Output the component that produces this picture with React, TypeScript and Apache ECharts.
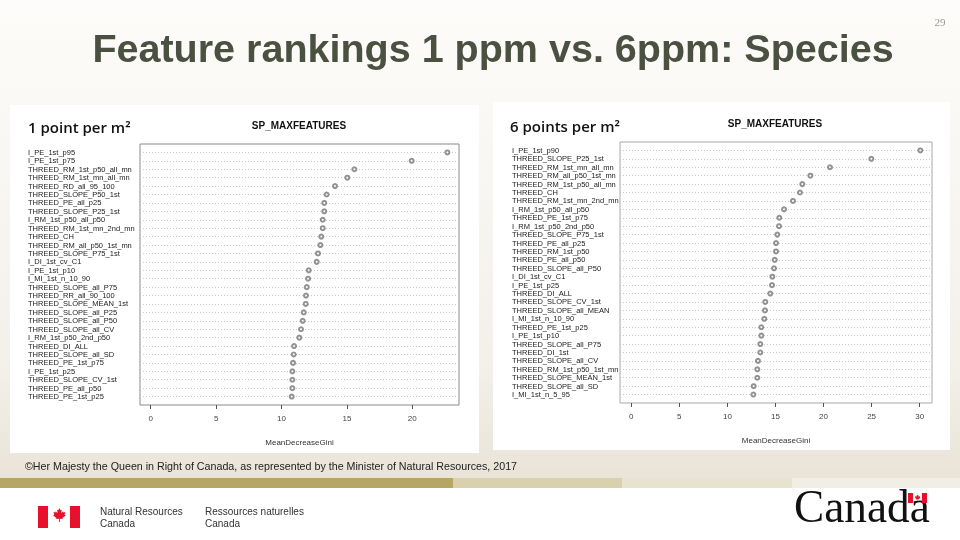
import React, { useEffect, useRef } from "react";
import * as echarts from "echarts";

const leftNames = [
  "I_PE_1st_p95", "I_PE_1st_p75", "THREED_RM_1st_p50_all_mn", "THREED_RM_1st_mn_all_mn",
  "THREED_RD_all_95_100", "THREED_SLOPE_P50_1st", "THREED_PE_all_p25", "THREED_SLOPE_P25_1st",
  "I_RM_1st_p50_all_p50", "THREED_RM_1st_mn_2nd_mn", "THREED_CH", "THREED_RM_all_p50_1st_mn",
  "THREED_SLOPE_P75_1st", "I_DI_1st_cv_C1", "I_PE_1st_p10", "I_MI_1st_n_10_90",
  "THREED_SLOPE_all_P75", "THREED_RR_all_90_100", "THREED_SLOPE_MEAN_1st", "THREED_SLOPE_all_P25",
  "THREED_SLOPE_all_P50", "THREED_SLOPE_all_CV", "I_RM_1st_p50_2nd_p50", "THREED_DI_ALL",
  "THREED_SLOPE_all_SD", "THREED_PE_1st_p75", "I_PE_1st_p25", "THREED_SLOPE_CV_1st",
  "THREED_PE_all_p50", "THREED_PE_1st_p25",
];
const leftValues = [
  22.68, 19.95, 15.57, 15.03, 14.09, 13.45, 13.27, 13.27, 13.15, 13.15,
  13.04, 12.97, 12.79, 12.69, 12.08, 12.03, 11.93, 11.87, 11.85, 11.7,
  11.62, 11.49, 11.36, 10.96, 10.93, 10.88, 10.83, 10.83, 10.83, 10.78,
];

const rightNames = [
  "I_PE_1st_p90", "THREED_SLOPE_P25_1st", "THREED_RM_1st_mn_all_mn", "THREED_RM_all_p50_1st_mn",
  "THREED_RM_1st_p50_all_mn", "THREED_CH", "THREED_RM_1st_mn_2nd_mn", "I_RM_1st_p50_all_p50",
  "THREED_PE_1st_p75", "I_RM_1st_p50_2nd_p50", "THREED_SLOPE_P75_1st", "THREED_PE_all_p25",
  "THREED_RM_1st_p50", "THREED_PE_all_p50", "THREED_SLOPE_all_P50", "I_DI_1st_cv_C1",
  "I_PE_1st_p25", "THREED_DI_ALL", "THREED_SLOPE_CV_1st", "THREED_SLOPE_all_MEAN",
  "I_MI_1st_n_10_90", "THREED_PE_1st_p25", "I_PE_1st_p10", "THREED_SLOPE_all_P75",
  "THREED_DI_1st", "THREED_SLOPE_all_CV", "THREED_RM_1st_p50_1st_mn", "THREED_SLOPE_MEAN_1st",
  "THREED_SLOPE_all_SD", "I_MI_1st_n_5_95",
];
const rightValues = [
  30.07, 24.97, 20.67, 18.63, 17.79, 17.55, 16.82, 15.89, 15.4, 15.37,
  15.19, 15.06, 15.06, 14.92, 14.85, 14.67, 14.64, 14.46, 13.94, 13.91,
  13.84, 13.53, 13.53, 13.42, 13.42, 13.18, 13.11, 13.11, 12.73, 12.7,
];

const leftTicks = [0, 5, 10, 15, 20];
const rightTicks = [0, 5, 10, 15, 20, 25, 30];

const FONT = "'Liberation Sans', Arial, sans-serif";

// 31 colours so that the first and the last split line (frame edges) are hidden
const splitColors = ["transparent"].concat(Array(30).fill("#c8c8c8"));

function xAxisFor(gridIndex: number, min: number, max: number, ticks: number[]) {
  return {
    type: "value",
    gridIndex,
    position: "bottom",
    min,
    max,
    splitLine: { show: false },
    axisLine: { show: false, onZero: false },
    axisTick: { show: true, customValues: ticks, length: 4, lineStyle: { color: "#555", width: 1 } },
    axisLabel: { customValues: ticks, fontSize: 8, color: "#444", margin: 9, fontFamily: FONT },
    name: "MeanDecreaseGini",
    nameLocation: "middle",
    nameGap: 33,
    nameTextStyle: { fontSize: 8, color: "#333", fontFamily: FONT },
  };
}

function yAxisFor(gridIndex: number, names: string[], margin: number) {
  return {
    type: "value",
    gridIndex,
    inverse: true,
    min: 0,
    max: names.length + 1,
    interval: 1,
    axisLine: { show: false, onZero: false },
    axisTick: { show: false },
    splitLine: { show: true, lineStyle: { type: [1, 2], color: splitColors, width: 1 } },
    axisLabel: {
      formatter: (v: number) => names[v - 1] ?? "",
      align: "left",
      margin,
      fontSize: 7.5,
      color: "#222",
      fontFamily: FONT,
    },
  };
}

const leafPoints = [
  [10, 0], [11.5, 3], [13, 2.5], [12.5, 7], [15, 4.5], [15.5, 6], [18, 5.5], [17, 9], [18.5, 10],
  [14, 13.5], [14.5, 15], [10.5, 14.5], [10.6, 19], [9.4, 19], [9.5, 14.5], [5.5, 15], [6, 13.5],
  [1.5, 10], [3, 9], [2, 5.5], [4.5, 6], [5, 4.5], [7.5, 7], [7, 2.5], [8.5, 3],
];

export default function App() {
  const ref = useRef<HTMLDivElement>(null);
  useEffect(() => {
    if (!ref.current) return;
    const chart = echarts.init(ref.current, null, { renderer: "svg" });
    const leaf = (x: number, y: number, s: number) => ({
      type: "polygon",
      x,
      y,
      scaleX: s,
      scaleY: s,
      shape: { points: leafPoints },
      style: { fill: "#e8112d" },
      z: 11,
    });
    const txt = (text: string, x: number, y: number, font: string, fill: string, align = "left") => ({
      type: "text",
      z: 10,
      x,
      y,
      style: { text, font, fill, textAlign: align, textVerticalAlign: "middle" },
    });
    chart.setOption({
      animation: false,
      backgroundColor: "transparent",
      grid: [
        { left: 140, top: 144, width: 319, height: 261, show: true, borderColor: "#8a8a8a", borderWidth: 1, backgroundColor: "#fff", containLabel: false },
        { left: 620, top: 142, width: 312, height: 261, show: true, borderColor: "#a8a8a8", borderWidth: 1, backgroundColor: "#fff", containLabel: false },
      ],
      xAxis: [xAxisFor(0, -0.82, 23.57, leftTicks), xAxisFor(1, -1.17, 31.28, rightTicks)],
      yAxis: [yAxisFor(0, leftNames, 112), yAxisFor(1, rightNames, 108)],
      series: [
        {
          type: "scatter",
          xAxisIndex: 0,
          yAxisIndex: 0,
          data: leftValues.map((v, i) => [v, i + 1]),
          symbol: "emptyCircle",
          symbolSize: 4,
          itemStyle: { color: "#777", borderWidth: 0.7 },
        },
        {
          type: "scatter",
          xAxisIndex: 1,
          yAxisIndex: 1,
          data: rightValues.map((v, i) => [v, i + 1]),
          symbol: "emptyCircle",
          symbolSize: 4,
          itemStyle: { color: "#777", borderWidth: 0.7 },
        },
      ],
      graphic: [
        // page background
        {
          type: "rect", z: -10, shape: { x: 0, y: 0, width: 960, height: 488 },
          style: {
            fill: new echarts.graphic.LinearGradient(0, 0, 0, 1, [
              { offset: 0, color: "#fdfcfa" },
              { offset: 0.75, color: "#f3f0ea" },
              { offset: 1, color: "#e9e3d6" },
            ]),
          },
        },
        { type: "rect", z: -10, shape: { x: 0, y: 488, width: 960, height: 52 }, style: { fill: "#ffffff" } },
        // panels
        { type: "rect", z: -9, shape: { x: 10, y: 105, width: 469, height: 348 }, style: { fill: "#ffffff" } },
        { type: "rect", z: -9, shape: { x: 493, y: 102, width: 457, height: 348 }, style: { fill: "#ffffff" } },
        // stripe
        { type: "rect", z: -8, shape: { x: 0, y: 478, width: 453, height: 10 }, style: { fill: "#b7a566" } },
        { type: "rect", z: -8, shape: { x: 453, y: 478, width: 169, height: 10 }, style: { fill: "#d9d0ae" } },
        { type: "rect", z: -8, shape: { x: 622, y: 478, width: 170, height: 10 }, style: { fill: "#e8e3cf" } },
        { type: "rect", z: -8, shape: { x: 792, y: 478, width: 168, height: 10 }, style: { fill: "#f1eee5" } },
        // title
        txt("Feature rankings 1 ppm vs. 6ppm: Species", 493, 48, `bold 39.5px ${FONT}`, "#4a5140", "center"),
        txt("29", 940, 22, "11px 'Liberation Serif', serif", "#9a9a9a", "center"),
        // panel subtitles
        txt("1 point per m²", 28, 127, "600 15px 'Open Sans', sans-serif", "#111"),
        txt("6 points per m²", 510, 126, "600 15px 'Open Sans', sans-serif", "#111"),
        txt("SP_MAXFEATURES", 299, 125, `bold 10px ${FONT}`, "#111", "center"),
        txt("SP_MAXFEATURES", 775, 123, `bold 10px ${FONT}`, "#111", "center"),
        txt("©Her Majesty the Queen in Right of Canada, as represented by the Minister of Natural Resources, 2017", 25, 466, `10.7px ${FONT}`, "#222"),
        // NRCan signature
        { type: "rect", z: 4, shape: { x: 38, y: 506, width: 10, height: 22 }, style: { fill: "#e8112d" } },
        { type: "rect", z: 4, shape: { x: 70, y: 506, width: 10, height: 22 }, style: { fill: "#e8112d" } },
        leaf(52, 508, 0.74),
        txt("Natural Resources", 100, 511, `10px ${FONT}`, "#333"),
        txt("Canada", 100, 523, `10px ${FONT}`, "#333"),
        txt("Ressources naturelles", 205, 511, `10px ${FONT}`, "#333"),
        txt("Canada", 205, 523, `10px ${FONT}`, "#333"),
        // Canada wordmark
        {
          type: "text", z: 10, x: 794, y: 529, scaleX: 0.985,
          style: { text: "Canada", font: "46px 'Liberation Serif', 'Times New Roman', serif", fill: "#111", textAlign: "left", textVerticalAlign: "bottom" },
        },
        { type: "rect", z: 11, shape: { x: 908, y: 493, width: 5, height: 10 }, style: { fill: "#e8112d" } },
        { type: "rect", z: 11, shape: { x: 922, y: 493, width: 5, height: 10 }, style: { fill: "#e8112d" } },
        leaf(914.3, 494.5, 0.33),
      ],
    });
    return () => chart.dispose();
  }, []);
  return <div ref={ref} style={{ position: "fixed", left: 0, top: 0, width: 960, height: 540 }} />;
}
